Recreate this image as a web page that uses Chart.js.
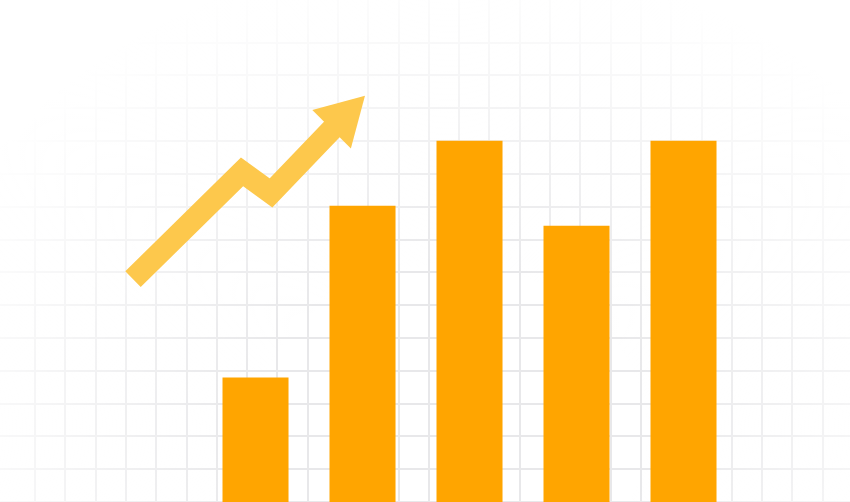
<!DOCTYPE html>
<html>
<head>
<meta charset="utf-8">
<script src="https://cdn.jsdelivr.net/npm/chart.js@4.4.1/dist/chart.umd.min.js"></script>
<style>
  html, body { margin: 0; padding: 0; background: #fff; }
  #wrap { width: 850px; height: 502px; }
</style>
</head>
<body>
<div id="wrap"><canvas id="growthChart"></canvas></div>
<script>
// bar positions and heights
const categories = [1, 2, 3, 4, 5];
const barValues = [34.5, 82, 100, 76.5, 100];

// trend arrow (same units as bars)
const arrowX = [-0.145, 0.874, 1.145, 1.815];
const arrowY = [61.7, 91.4, 85.6, 106.3];

const barColor = '#ffa500';
const arrowColor = '#fdc84c';

// soft white vignette over the background grid
const fadeGrid = {
    id: 'fadeGrid',
    beforeDatasetsDraw(chart) {
        const ctx = chart.ctx;
        const w = chart.width, h = chart.height;
        ctx.save();
        ctx.translate(w * 0.53, h * 0.86);
        ctx.scale(1, 0.85);
        const g = ctx.createRadialGradient(0, 0, 0, 0, 0, 560);
        g.addColorStop(0, 'rgba(255,255,255,0)');
        g.addColorStop(0.35, 'rgba(255,255,255,0)');
        g.addColorStop(1, 'rgba(255,255,255,1)');
        ctx.fillStyle = g;
        ctx.fillRect(-w, -h * 2, w * 3, h * 4);
        ctx.restore();
    }
};

function integerTicks(axis) {
    axis.ticks = axis.ticks.filter(t => Number.isInteger(t.value));
}

const ctx = document.getElementById('growthChart').getContext('2d');
new Chart(ctx, {
    type: 'bar',
    data: {
        datasets: [{
            type: 'bar',
            data: categories.map((c, i) => ({ x: c, y: barValues[i] })),
            backgroundColor: barColor,
            borderWidth: 0,
            grouped: false,
            categoryPercentage: 1,
            barPercentage: 0.617
        }, {
            type: 'line',
            xAxisID: 'xa',
            data: arrowX.map((x, i) => ({ x: x, y: arrowY[i] })),
            borderColor: arrowColor,
            borderWidth: 22,
            borderJoinStyle: 'miter',
            borderCapStyle: 'butt',
            tension: 0,
            fill: false,
            clip: false,
            pointStyle: 'triangle',
            pointRotation: 45,
            pointRadius: arrowX.map((x, i) => i === arrowX.length - 1 ? 31.5 : 0),
            pointHoverRadius: arrowX.map((x, i) => i === arrowX.length - 1 ? 31.5 : 0),
            pointBackgroundColor: arrowColor,
            pointBorderWidth: 0
        }]
    },
    options: {
        responsive: true,
        maintainAspectRatio: false,
        animation: false,
        layout: { padding: 0, autoPadding: false },
        plugins: {
            legend: { display: false },
            tooltip: { enabled: false }
        },
        scales: {
            x: {
                type: 'linear', display: false, offset: false,
                min: -1.388, max: 6.556,
                ticks: { stepSize: 1 },
                afterBuildTicks: integerTicks
            },
            xa: { type: 'linear', display: false, offset: false, min: -1.388, max: 6.556 },
            y: { type: 'linear', display: false, min: 0, max: 139 },
            gx: {
                type: 'linear', position: 'top', offset: false, min: -0.657, max: 27.4,
                ticks: { display: false, stepSize: 1 },
                afterBuildTicks: integerTicks,
                border: { display: false },
                grid: { color: '#e8e8ea', lineWidth: 2, drawTicks: false }
            },
            gy: {
                type: 'linear', position: 'right', min: 0, max: 15.3,
                ticks: { display: false, stepSize: 1 },
                afterBuildTicks: integerTicks,
                border: { display: false },
                grid: { color: '#e8e8ea', lineWidth: 2, drawTicks: false }
            }
        }
    },
    plugins: [fadeGrid]
});
</script>
</body>
</html>
